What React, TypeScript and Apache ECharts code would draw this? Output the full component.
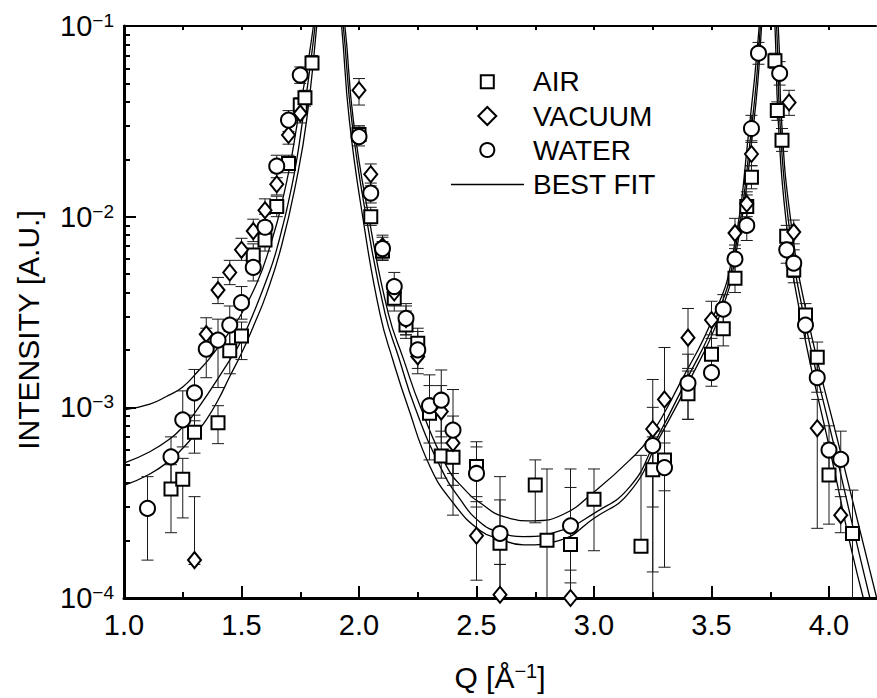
import React, { useEffect, useRef } from "react";
import * as echarts from "echarts";

const FONT = "'Liberation Sans', Arial, Helvetica, sans-serif";

// ---------- AIR (squares) ----------
const airQ = [1.2, 1.25, 1.3, 1.4, 1.45, 1.5, 1.55, 1.6, 1.65, 1.7, 1.75, 1.77, 1.8, 2.0, 2.05, 2.1, 2.15, 2.2, 2.25, 2.3, 2.35, 2.4, 2.5, 2.6, 2.75, 2.8, 2.9, 3.0, 3.2, 3.25, 3.3, 3.4, 3.5, 3.55, 3.6, 3.65, 3.67, 3.77, 3.78, 3.8, 3.82, 3.85, 3.9, 3.95, 4.0, 4.1];
const airI = [3.73e-4, 4.2e-4, 7.4e-4, 8.3e-4, 1.98e-3, 2.37e-3, 6.3e-3, 7.55e-3, 1.13e-2, 1.9e-2, 3.85e-2, 4.2e-2, 6.4e-2, 2.7e-2, 1.0e-2, 6.6e-3, 3.73e-3, 2.7e-3, 2.17e-3, 9.3e-4, 5.56e-4, 5.47e-4, 4.9e-4, 1.94e-4, 3.92e-4, 2.01e-4, 1.91e-4, 3.3e-4, 1.87e-4, 4.7e-4, 5.3e-4, 1.18e-3, 1.9e-3, 2.58e-3, 4.75e-3, 1.13e-2, 1.61e-2, 6.58e-2, 3.6e-2, 2.52e-2, 7.9e-3, 5.25e-3, 3.05e-3, 1.83e-3, 4.42e-4, 2.18e-4];
const airLo = [2.2e-4, 2.63e-4, 5.75e-4, 6.45e-4, 1.5e-3, 1.78e-3, 5.4e-3, 6.6e-3, 1.0e-2, 1.7e-2, 3.5e-2, 3.8e-2, 5.9e-2, 2.45e-2, 9.0e-3, 5.9e-3, 3.2e-3, 2.3e-3, 1.8e-3, 6.5e-4, 4.25e-4, 3.9e-4, 3.4e-4, 9e-5, 2.48e-4, 8e-5, 8e-5, 1.77e-4, 1.75e-4, 1.37e-4, 3.65e-4, 8.65e-4, 1.5e-3, 2.1e-3, 4.0e-3, 9.5e-3, 1.4e-2, 6.0e-2, 3.2e-2, 2.2e-2, 6.8e-3, 4.5e-3, 2.6e-3, 1.5e-3, 2.44e-4, 8e-5];
const airHi = [5.0e-4, 5.4e-4, 9.1e-4, 1.02e-3, 2.5e-3, 2.8e-3, 7.2e-3, 8.6e-3, 1.28e-2, 2.1e-2, 4.2e-2, 4.6e-2, 7.0e-2, 3.0e-2, 1.12e-2, 7.4e-3, 4.3e-3, 3.2e-3, 2.6e-3, 1.3e-3, 7.5e-4, 7.5e-4, 6.6e-4, 4.33e-4, 5.3e-4, 4.75e-4, 3.8e-4, 4.75e-4, 5.6e-4, 7.0e-4, 7.5e-4, 1.55e-3, 2.4e-3, 3.1e-3, 5.6e-3, 1.3e-2, 1.85e-2, 7.2e-2, 4.0e-2, 2.9e-2, 9.0e-3, 6.0e-3, 3.5e-3, 2.2e-3, 6.5e-4, 3.68e-4];

// ---------- VACUUM (diamonds) ----------
const vacQ = [1.3, 1.35, 1.4, 1.45, 1.5, 1.55, 1.6, 1.65, 1.7, 1.75, 2.0, 2.05, 2.1, 2.15, 2.2, 2.25, 2.35, 2.4, 2.5, 2.6, 2.9, 3.25, 3.3, 3.4, 3.5, 3.6, 3.65, 3.67, 3.83, 3.85, 3.95, 4.05];
const vacI = [1.58e-4, 2.42e-3, 4.12e-3, 5.1e-3, 6.7e-3, 8.4e-3, 1.08e-2, 1.48e-2, 2.68e-2, 3.48e-2, 4.6e-2, 1.67e-2, 7.0e-3, 4.0e-3, 2.9e-3, 1.85e-3, 9.5e-4, 6.5e-4, 2.12e-4, 1.04e-4, 1.0e-4, 7.7e-4, 1.1e-3, 2.32e-3, 2.87e-3, 8.2e-3, 1.17e-2, 2.13e-2, 3.97e-2, 8.3e-3, 7.76e-4, 2.72e-4];
const vacLo = [1.5e-4, 2.0e-3, 3.5e-3, 4.4e-3, 5.9e-3, 7.4e-3, 9.5e-3, 1.3e-2, 2.4e-2, 3.1e-2, 3.85e-2, 1.45e-2, 6.0e-3, 3.4e-3, 2.4e-3, 1.5e-3, 7.0e-4, 4.5e-4, 1.24e-4, 6e-5, 6e-5, 8e-5, 5.5e-4, 1.6e-3, 2.3e-3, 6.8e-3, 1.0e-2, 1.85e-2, 3.4e-2, 7.2e-3, 2.32e-4, 2.2e-4];
const vacHi = [3.4e-4, 2.95e-3, 4.8e-3, 5.9e-3, 7.7e-3, 9.7e-3, 1.24e-2, 1.7e-2, 3.0e-2, 3.9e-2, 5.3e-2, 1.89e-2, 8.0e-3, 4.6e-3, 3.4e-3, 2.3e-3, 1.3e-3, 9.0e-4, 3.2e-4, 1.5e-4, 1.4e-4, 1.4e-3, 2.06e-3, 3.3e-3, 3.6e-3, 9.8e-3, 1.35e-2, 2.45e-2, 4.6e-2, 9.6e-3, 1.1e-3, 3.4e-4];

// ---------- WATER (circles) ----------
const watQ = [1.1, 1.2, 1.25, 1.3, 1.35, 1.4, 1.45, 1.5, 1.55, 1.6, 1.65, 1.7, 1.75, 2.0, 2.05, 2.1, 2.15, 2.2, 2.25, 2.3, 2.35, 2.4, 2.5, 2.6, 2.9, 3.25, 3.3, 3.4, 3.5, 3.55, 3.6, 3.65, 3.67, 3.7, 3.79, 3.82, 3.85, 3.9, 3.95, 4.0, 4.05];
const watI = [2.95e-4, 5.5e-4, 8.6e-4, 1.19e-3, 2.02e-3, 2.25e-3, 2.7e-3, 3.54e-3, 5.42e-3, 8.8e-3, 1.84e-2, 3.21e-2, 5.53e-2, 2.63e-2, 1.33e-2, 6.8e-3, 4.3e-3, 2.93e-3, 2.0e-3, 1.02e-3, 1.09e-3, 7.6e-4, 4.5e-4, 2.18e-4, 2.39e-4, 6.3e-4, 4.83e-4, 1.34e-3, 1.52e-3, 3.27e-3, 6.0e-3, 9.0e-3, 2.9e-2, 7.2e-2, 5.65e-2, 6.7e-3, 5.7e-3, 2.7e-3, 1.43e-3, 5.97e-4, 5.33e-4];
const watLo = [1.58e-4, 4.0e-4, 6.2e-4, 8.5e-4, 1.43e-3, 1.27e-3, 2.1e-3, 2.9e-3, 4.6e-3, 7.5e-3, 1.6e-2, 2.8e-2, 5.0e-2, 2.35e-2, 1.18e-2, 5.9e-3, 3.6e-3, 2.4e-3, 1.6e-3, 5.3e-4, 6.5e-4, 2.72e-4, 3.0e-4, 1.5e-4, 1.2e-4, 3.0e-4, 1.45e-4, 8.65e-4, 1.29e-3, 2.7e-3, 5.0e-3, 7.5e-3, 2.5e-2, 6.3e-2, 4.9e-2, 5.7e-3, 4.8e-3, 2.3e-3, 1.2e-3, 4.2e-4, 3.7e-4];
const watHi = [4.33e-4, 7.0e-4, 1.22e-3, 1.58e-3, 2.6e-3, 2.9e-3, 3.4e-3, 4.3e-3, 6.3e-3, 1.03e-2, 2.1e-2, 3.6e-2, 6.1e-2, 2.95e-2, 1.5e-2, 7.8e-3, 5.1e-3, 3.5e-3, 2.5e-3, 1.48e-3, 1.57e-3, 1.24e-3, 6.2e-4, 3.27e-4, 4.75e-4, 1.0e-3, 6.5e-4, 1.9e-3, 1.8e-3, 3.9e-3, 7.1e-3, 1.07e-2, 3.4e-2, 8.2e-2, 6.5e-2, 7.8e-3, 6.7e-3, 3.2e-3, 1.7e-3, 8.0e-4, 7.5e-4];

// ---------- BEST FIT curves ----------
const fitAQ = [1.0, 1.11, 1.18, 1.25, 1.32, 1.36, 1.44, 1.49, 1.55, 1.61, 1.69, 1.74, 1.806, 1.87, 1.94, 1.976, 2.044, 2.125, 2.19, 2.262, 2.373, 2.45, 2.515, 2.62, 2.74, 2.87, 3.0, 3.153, 3.238, 3.366, 3.508, 3.59, 3.664, 3.703, 3.742, 3.784, 3.798, 3.837, 3.905, 4.047, 4.203];
const fitAI = [9.7e-4, 1.04e-3, 1.14e-3, 1.28e-3, 1.57e-3, 1.78e-3, 2.4e-3, 2.95e-3, 4.07e-3, 6.3e-3, 1.48e-2, 3.24e-2, 0.1, 0.5, 0.1, 3.2e-2, 9.6e-3, 3.1e-3, 1.78e-3, 1.0e-3, 4.9e-4, 3.7e-4, 3.16e-4, 2.66e-4, 2.54e-4, 2.75e-4, 3.6e-4, 5.3e-4, 7.0e-4, 1.34e-3, 2.99e-3, 6.3e-3, 3.2e-2, 0.1, 0.5, 0.1, 3.2e-2, 9.6e-3, 3.1e-3, 5.97e-4, 1.0e-4];
const fitBQ = [1.0, 1.11, 1.2, 1.25, 1.3, 1.45, 1.5, 1.55, 1.607, 1.65, 1.714, 1.76, 1.813, 1.87, 1.933, 1.969, 2.033, 2.111, 2.167, 2.238, 2.345, 2.43, 2.515, 2.6, 2.7, 2.85, 3.0, 3.153, 3.26, 3.387, 3.522, 3.597, 3.674, 3.708, 3.742, 3.777, 3.791, 3.827, 3.891, 4.026, 4.174, 4.21];
const fitBI = [5.1e-4, 5.85e-4, 6.9e-4, 7.9e-4, 9.3e-4, 1.77e-3, 2.25e-3, 3.1e-3, 4.68e-3, 6.76e-3, 1.44e-2, 3.2e-2, 0.1, 0.5, 0.1, 3.2e-2, 9.6e-3, 3.1e-3, 1.86e-3, 1.0e-3, 4.9e-4, 3.3e-4, 2.5e-4, 2.21e-4, 2.1e-4, 2.24e-4, 2.78e-4, 3.84e-4, 6.6e-4, 1.34e-3, 2.99e-3, 6.3e-3, 3.2e-2, 0.1, 0.5, 0.1, 3.2e-2, 9.6e-3, 3.1e-3, 5.97e-4, 1.0e-4, 7e-5];
const fitCQ = [1.0, 1.11, 1.2, 1.25, 1.3, 1.35, 1.4, 1.45, 1.5, 1.55, 1.607, 1.671, 1.735, 1.777, 1.82, 1.87, 1.926, 1.959, 2.018, 2.089, 2.146, 2.209, 2.302, 2.4, 2.515, 2.6, 2.7, 2.85, 3.0, 3.153, 3.28, 3.401, 3.533, 3.603, 3.681, 3.713, 3.742, 3.77, 3.784, 3.817, 3.877, 4.004, 4.146, 4.2];
const fitCI = [3.9e-4, 4.47e-4, 5.33e-4, 6.1e-4, 7.16e-4, 8.6e-4, 1.09e-3, 1.45e-3, 1.92e-3, 2.65e-3, 3.96e-3, 7.08e-3, 1.58e-2, 3.2e-2, 0.1, 0.5, 0.1, 3.2e-2, 9.6e-3, 3.1e-3, 1.74e-3, 1.0e-3, 4.9e-4, 3.16e-4, 2.26e-4, 2.04e-4, 1.9e-4, 2.0e-4, 2.62e-4, 3.61e-4, 7.0e-4, 1.34e-3, 2.99e-3, 6.3e-3, 3.2e-2, 0.1, 0.5, 0.1, 3.2e-2, 9.6e-3, 3.1e-3, 5.97e-4, 1.0e-4, 7e-5];

// ---------- axes ----------
const xMajorTicks = [1.0, 1.5, 2.0, 2.5, 3.0, 3.5, 4.0];
const xMinorTicks = [1.25, 1.75, 2.25, 2.75, 3.25, 3.75];
const xTopTicks = [1.25, 1.5, 1.75, 2.0, 2.25, 2.5, 2.75, 3.0, 3.25, 3.5, 3.75, 4.0];
const yMinorTicks = [2e-4, 3e-4, 4e-4, 5e-4, 6e-4, 7e-4, 8e-4, 9e-4, 2e-3, 3e-3, 4e-3, 5e-3, 6e-3, 7e-3, 8e-3, 9e-3, 2e-2, 3e-2, 4e-2, 5e-2, 6e-2, 7e-2, 8e-2, 9e-2];
const legendNames = ["AIR", "VACUUM", "WATER", "BEST FIT"];
const MINUS = "\u2212";

const pairs = (q: number[], v: number[]) => q.map((x, i) => [x, v[i]]);
const triples = (q: number[], lo: number[], hi: number[]) => q.map((x, i) => [x, lo[i], hi[i]]);

const errRender = (params: any, api: any) => {
  const q = api.value(0);
  const p1 = api.coord([q, api.value(1)]);
  const p2 = api.coord([q, api.value(2)]);
  const hw = 6;
  const st = { stroke: "#1a1a1a", lineWidth: 1 };
  return {
    type: "group",
    children: [
      { type: "line", shape: { x1: p1[0], y1: p1[1], x2: p2[0], y2: p2[1] }, style: st },
      { type: "line", shape: { x1: p1[0] - hw, y1: p1[1], x2: p1[0] + hw, y2: p1[1] }, style: st },
      { type: "line", shape: { x1: p2[0] - hw, y1: p2[1], x2: p2[0] + hw, y2: p2[1] }, style: st },
    ],
  };
};

export default function App() {
  const ref = useRef<HTMLDivElement>(null);
  useEffect(() => {
    const chart = echarts.init(ref.current!, null, { renderer: "svg" });
    const black = "#000";
    const supRich = {
      b: { fontSize: 29, fontFamily: FONT, color: black, lineHeight: 30 },
      s: { fontSize: 19, fontFamily: FONT, color: black, lineHeight: 19, verticalAlign: "top" },
    };
    const nameRich = {
      b: { fontSize: 30, fontFamily: FONT, color: black, lineHeight: 32 },
      s: { fontSize: 20, fontFamily: FONT, color: black, lineHeight: 20, verticalAlign: "top" },
    };
    const fitLine = (q: number[], v: number[]) => ({
      type: "line",
      name: legendNames[3],
      data: pairs(q, v),
      symbol: "none",
      smooth: 0.5,
      lineStyle: { color: black, width: 1.3 },
      xAxisIndex: 0,
      yAxisIndex: 0,
      z: 2,
      silent: true,
    });
    const errSeries = (q: number[], lo: number[], hi: number[]) => ({
      type: "custom",
      data: triples(q, lo, hi),
      renderItem: errRender,
      encode: { x: 0, y: [1, 2] },
      clip: true,
      xAxisIndex: 0,
      yAxisIndex: 0,
      z: 3,
      silent: true,
    });
    const symStyle = { color: "#fff", borderColor: black, borderWidth: 2, opacity: 1 };
    const lx = 487.3;
    const lys = [81.7, 116, 150, 184.5];
    const legendStyle = { fill: "#fff", stroke: black, lineWidth: 2 };

    const option: any = {
      animation: false,
      backgroundColor: "#fff",
      grid: { left: 124, right: 1, top: 26, bottom: 100, containLabel: false },
      xAxis: [
        {
          type: "value",
          position: "bottom",
          min: 1,
          max: 4.2,
          interval: 0.5,
          axisLine: { show: true, onZero: false, lineStyle: { color: black, width: 3 } },
          axisTick: { show: true, inside: true, length: 12, lineStyle: { color: black, width: 2 }, customValues: xMajorTicks },
          axisLabel: {
            show: true,
            margin: 12,
            fontSize: 29,
            fontFamily: FONT,
            color: black,
            customValues: xMajorTicks,
            formatter: (v: number) => v.toFixed(1),
          },
          splitLine: { show: false },
          name: `{b|Q [Å}{s|${MINUS}1}{b|]}`,
          nameLocation: "middle",
          nameGap: 63,
          nameTextStyle: { rich: nameRich },
        },
        {
          type: "value",
          position: "top",
          min: 1,
          max: 4.2,
          axisLine: { show: true, onZero: false, lineStyle: { color: black, width: 2 } },
          axisTick: { show: true, inside: true, length: 4, lineStyle: { color: black, width: 2 }, customValues: xTopTicks },
          axisLabel: { show: false },
          splitLine: { show: false },
        },
        {
          type: "value",
          position: "bottom",
          min: 1,
          max: 4.2,
          axisLine: { show: false, onZero: false },
          axisTick: { show: true, inside: true, length: 6, lineStyle: { color: black, width: 2 }, customValues: xMinorTicks },
          axisLabel: { show: false },
          splitLine: { show: false },
        },
      ],
      yAxis: [
        {
          type: "log",
          logBase: 10,
          position: "left",
          min: 1e-4,
          max: 1e-1,
          axisLine: { show: true, onZero: false, lineStyle: { color: black, width: 3 } },
          axisTick: { show: true, inside: true, length: 12, lineStyle: { color: black, width: 2 } },
          axisLabel: {
            show: true,
            margin: 10,
            formatter: (v: number) => `{b|10}{s|${MINUS}${Math.abs(Math.round(Math.log10(v)))}}`,
            rich: supRich,
          },
          splitLine: { show: false },
          minorTick: { show: false },
          name: "INTENSITY [A.U.]",
          nameLocation: "middle",
          nameRotate: 90,
          nameGap: 81,
          nameTextStyle: { fontSize: 30, fontFamily: FONT, color: black, padding: [0, 36, 0, 0] },
        },
        {
          type: "value",
          position: "left",
          min: -4,
          max: -1,
          axisLine: { show: false, onZero: false },
          axisTick: { show: true, inside: true, length: 6, lineStyle: { color: black, width: 2 }, customValues: yMinorTicks.map((v) => Math.log10(v)) },
          axisLabel: { show: false },
          splitLine: { show: false },
        },
      ],
      series: [
        fitLine(fitAQ, fitAI),
        fitLine(fitBQ, fitBI),
        fitLine(fitCQ, fitCI),
        errSeries(airQ, airLo, airHi),
        errSeries(vacQ, vacLo, vacHi),
        errSeries(watQ, watLo, watHi),
        {
          type: "scatter",
          name: legendNames[0],
          data: pairs(airQ, airI),
          symbol: "rect",
          symbolSize: 13,
          itemStyle: symStyle,
          z: 4,
        },
        {
          type: "scatter",
          name: legendNames[1],
          data: pairs(vacQ, vacI),
          symbol: "diamond",
          symbolSize: [13, 16],
          itemStyle: symStyle,
          z: 5,
        },
        {
          type: "scatter",
          name: legendNames[2],
          data: pairs(watQ, watI),
          symbol: "circle",
          symbolSize: 15,
          itemStyle: symStyle,
          z: 6,
        },
      ],
      graphic: [
        { type: "rect", shape: { x: lx - 6.5, y: lys[0] - 6.5, width: 13, height: 13 }, style: legendStyle, z: 10 },
        {
          type: "polygon",
          shape: { points: [[lx, lys[1] - 9], [lx + 9, lys[1]], [lx, lys[1] + 9], [lx - 9, lys[1]]] },
          style: legendStyle,
          z: 10,
        },
        { type: "circle", shape: { cx: lx, cy: lys[2], r: 7 }, style: legendStyle, z: 10 },
        { type: "line", shape: { x1: 451, y1: lys[3], x2: 524, y2: lys[3] }, style: { stroke: black, lineWidth: 1.3 }, z: 10 },
        ...legendNames.map((n, i) => ({
          type: "text",
          x: 533,
          y: lys[i],
          z: 10,
          style: { text: n, fontSize: 28, fontFamily: FONT, fill: black, verticalAlign: "middle", align: "left" },
        })),
      ],
    };
    chart.setOption(option);
    return () => chart.dispose();
  }, []);
  return <div ref={ref} style={{ position: "fixed", left: 0, top: 0, width: 877, height: 698 }} />;
}
